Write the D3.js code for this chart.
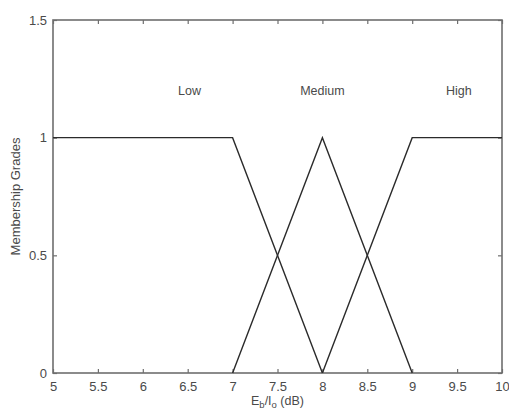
<!DOCTYPE html>
<html>
<head>
<meta charset="utf-8">
<script src="https://cdn.jsdelivr.net/npm/d3@7"></script>
<style>
  html, body { margin: 0; padding: 0; background: #fff; }
  svg text { font-family: "Liberation Sans", Arial, sans-serif; fill: #4a4a4a; }
</style>
</head>
<body>
<svg id="chart" width="509" height="412"></svg>
<script>
// Fuzzy membership functions for Eb/Io (dB)
const lowX = [5, 7, 8];
const lowY = [1, 1, 0];
const mediumX = [7, 8, 9];
const mediumY = [0, 1, 0];
const highX = [8, 9, 10];
const highY = [0, 1, 1];

const setNames = ["Low", "Medium", "High"];
const setLabelX = [6.52, 8, 9.52];
const setLabelY = [1.2, 1.2, 1.2];

const xTicks = [5, 5.5, 6, 6.5, 7, 7.5, 8, 8.5, 9, 9.5, 10];
const yTicks = [0, 0.5, 1, 1.5];

const svg = d3.select("#chart");
const plotLeft = 53, plotRight = 502, plotTop = 20, plotBottom = 373;

const x = d3.scaleLinear().domain([5, 10]).range([plotLeft, plotRight]);
const y = d3.scaleLinear().domain([0, 1.5]).range([plotBottom, plotTop]);

const axisColor = "#6e6e6e";
const fmt = d => String(d);

// Bottom and left axes with inward ticks
const gx = svg.append("g").attr("transform", `translate(0,${plotBottom})`)
  .call(d3.axisBottom(x).tickValues(xTicks).tickFormat(fmt).tickSizeInner(-4).tickSizeOuter(0).tickPadding(9));
const gy = svg.append("g").attr("transform", `translate(${plotLeft},0)`)
  .call(d3.axisLeft(y).tickValues(yTicks).tickFormat(fmt).tickSizeInner(-4).tickSizeOuter(0).tickPadding(6));
// Top and right mirror ticks
const gt = svg.append("g").attr("transform", `translate(0,${plotTop})`)
  .call(d3.axisTop(x).tickValues(xTicks).tickFormat("").tickSizeInner(-4).tickSizeOuter(0));
const gr = svg.append("g").attr("transform", `translate(${plotRight},0)`)
  .call(d3.axisRight(y).tickValues(yTicks).tickFormat("").tickSizeInner(-4).tickSizeOuter(0));

[gx, gy, gt, gr].forEach(g => {
  g.select(".domain").remove();
  g.selectAll(".tick line").attr("stroke", axisColor).attr("stroke-width", 1.2);
  g.selectAll(".tick text").attr("font-size", 13).attr("fill", "#505050")
    .attr("font-family", "Liberation Sans, Arial, sans-serif");
});

// Axes box
svg.append("rect")
  .attr("x", plotLeft).attr("y", plotTop)
  .attr("width", plotRight - plotLeft).attr("height", plotBottom - plotTop)
  .attr("fill", "none").attr("stroke", axisColor).attr("stroke-width", 1.6);

// Membership curves
const line = d3.line().x(d => x(d[0])).y(d => y(d[1]));
const series = [
  d3.zip(lowX, lowY),
  d3.zip(mediumX, mediumY),
  d3.zip(highX, highY)
];
svg.append("g").selectAll("path").data(series).join("path")
  .attr("d", line)
  .attr("fill", "none")
  .attr("stroke", "#2b2b2b")
  .attr("stroke-width", 1.4);

// Set names
svg.append("g").selectAll("text").data(setNames).join("text")
  .attr("x", (d, i) => x(setLabelX[i]))
  .attr("y", (d, i) => y(setLabelY[i]))
  .attr("dy", "0.35em")
  .attr("text-anchor", "middle")
  .attr("font-size", 12.5)
  .attr("fill", "#454545")
  .text(d => d);

// Y axis label
svg.append("text")
  .attr("transform", `translate(20,${(plotTop + plotBottom) / 2}) rotate(-90)`)
  .attr("text-anchor", "middle")
  .attr("font-size", 13)
  .attr("fill", "#454545")
  .text("Membership Grades");

// X axis label: Eb/Io (dB)
const xl = svg.append("text")
  .attr("x", (plotLeft + plotRight) / 2)
  .attr("y", 405)
  .attr("text-anchor", "middle")
  .attr("font-size", 12.5)
  .attr("fill", "#454545");
xl.append("tspan").text("E");
xl.append("tspan").attr("font-size", 9.5).attr("dy", 3).text("b");
xl.append("tspan").attr("dy", -3).text("/I");
xl.append("tspan").attr("font-size", 9.5).attr("dy", 3).text("o");
xl.append("tspan").attr("dy", -3).text(" (dB)");
</script>
</body>
</html>
